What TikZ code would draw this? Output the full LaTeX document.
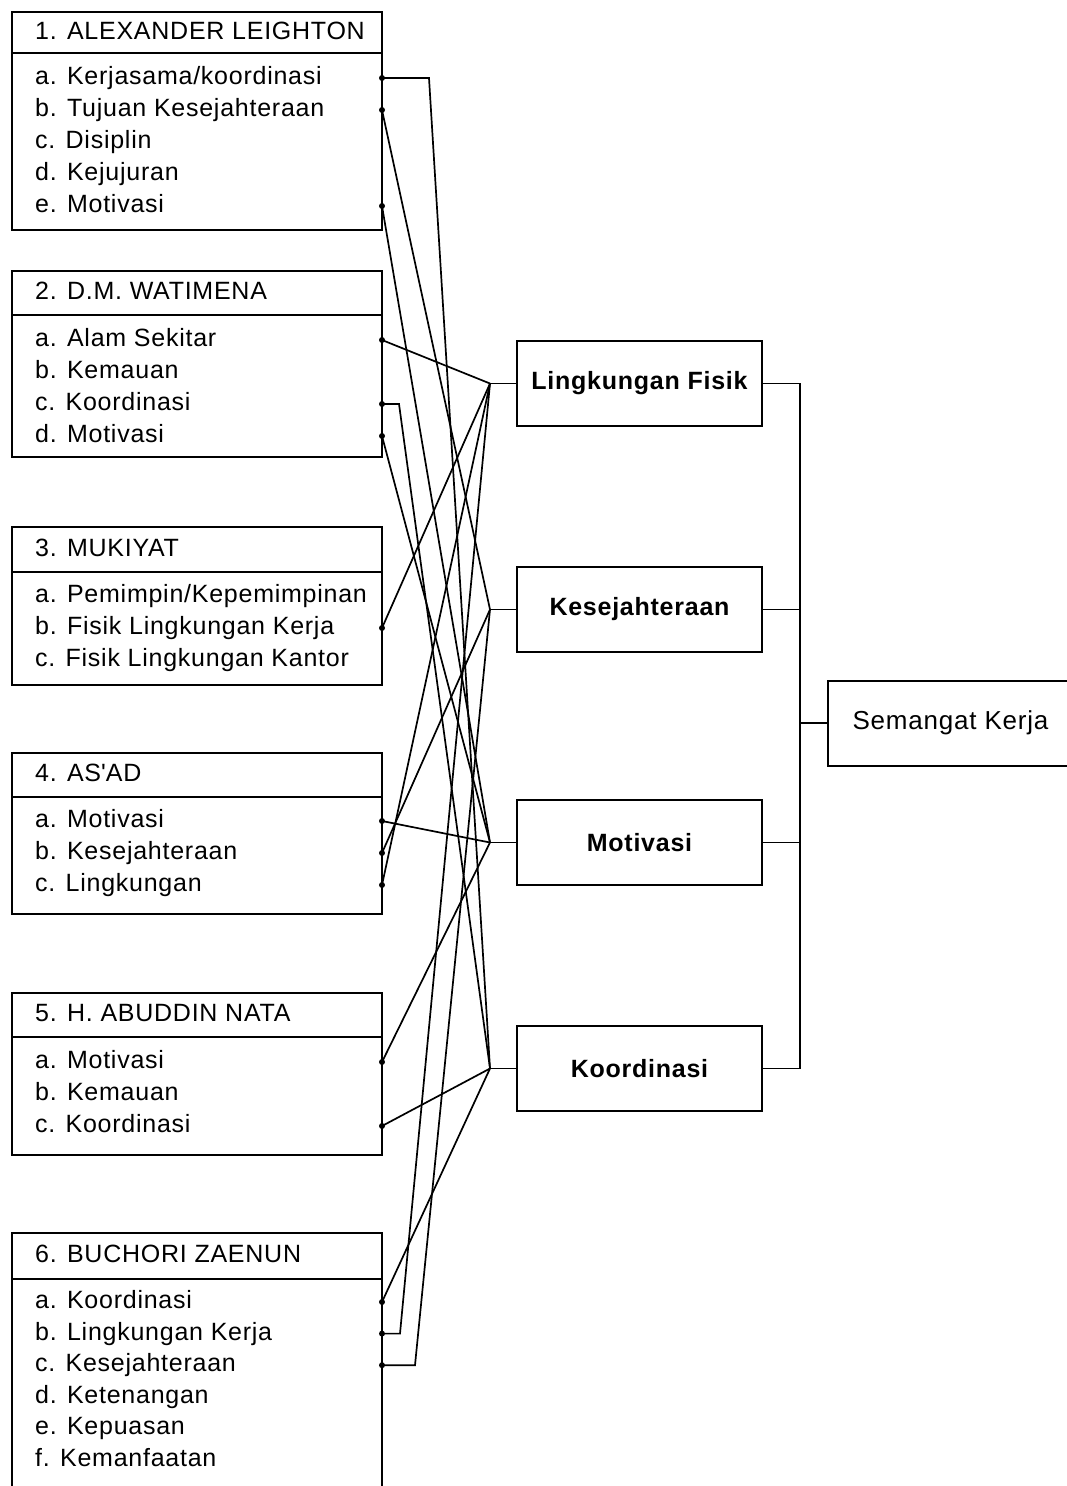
\documentclass[tikz,border=0pt]{standalone}
\usepackage{fontspec}
\setmainfont{Liberation Sans}[LetterSpace=3]
\usetikzlibrary{positioning}
\tikzset{x=1pt, y=-1pt, % pixel grid of the scan
namebox/.style={ % header of a source box
draw,
line width=2pt,
outer sep=0pt,
minimum width=370pt,
anchor=north west},
listbox/.style={ % list part of a source box
namebox,
anchor=north},
heading/.style={anchor=west, inner sep=0pt, text height=18pt, text depth=5pt,
font=\fontsize{25}{29}\selectfont},
entry/.style={heading},
dot/.style={circle, fill, inner sep=0pt, minimum size=6pt},
factor/.style={ % the four factors in the middle
draw,
line width=2pt,
outer sep=0pt,
minimum width=245pt,
minimum height=85pt,
font=\bfseries\fontsize{25}{29}\selectfont},
link/.style={line width=1.7pt}}

\begin{document}
\begin{tikzpicture}
\useasboundingbox (0,0) rectangle (1067,1486);
\clip (0,0) rectangle (1067,1486);

% 1. Alexander Leighton
\node[namebox, minimum height=41pt] (h1) at (12,12) {};
\node[listbox, minimum height=177pt, below=0pt of h1] (b1) {};
\node[heading] (t1) at (35,32.5) {1. ALEXANDER LEIGHTON};
\node[entry] (e1a) at (35,78) {a. Kerjasama/koordinasi};
\node[entry] (e1b) at (35,110) {b. Tujuan Kesejahteraan};
\node[entry] (e1c) at (35,142) {c. Disiplin};
\node[entry] (e1d) at (35,174) {d. Kejujuran};
\node[entry] (e1e) at (35,206) {e. Motivasi};

% 2. D.M. Watimena
\node[namebox, minimum height=44pt] (h2) at (12,271) {};
\node[listbox, minimum height=142pt, below=0pt of h2] (b2) {};
\node[heading] (t2) at (35,293) {2. D.M. WATIMENA};
\node[entry] (e2a) at (35,340) {a. Alam Sekitar};
\node[entry] (e2b) at (35,372) {b. Kemauan};
\node[entry] (e2c) at (35,404) {c. Koordinasi};
\node[entry] (e2d) at (35,436) {d. Motivasi};

% 3. Mukiyat
\node[namebox, minimum height=45pt] (h3) at (12,527) {};
\node[listbox, minimum height=113pt, below=0pt of h3] (b3) {};
\node[heading] (t3) at (35,549.5) {3. MUKIYAT};
\node[entry] (e3a) at (35,596) {a. Pemimpin/Kepemimpinan};
\node[entry] (e3b) at (35,628) {b. Fisik Lingkungan Kerja};
\node[entry] (e3c) at (35,660) {c. Fisik Lingkungan Kantor};

% 4. As'ad
\node[namebox, minimum height=44pt] (h4) at (12,753) {};
\node[listbox, minimum height=117pt, below=0pt of h4] (b4) {};
\node[heading] (t4) at (35,775) {4. AS\textquotesingle AD};
\node[entry] (e4a) at (35,821) {a. Motivasi};
\node[entry] (e4b) at (35,853) {b. Kesejahteraan};
\node[entry] (e4c) at (35,885) {c. Lingkungan};

% 5. H. Abuddin Nata
\node[namebox, minimum height=44pt] (h5) at (12,993) {};
\node[listbox, minimum height=118pt, below=0pt of h5] (b5) {};
\node[heading] (t5) at (35,1015) {5. H. ABUDDIN NATA};
\node[entry] (e5a) at (35,1062) {a. Motivasi};
\node[entry] (e5b) at (35,1094) {b. Kemauan};
\node[entry] (e5c) at (35,1126) {c. Koordinasi};

% 6. Buchori Zaenun (runs off the page)
\node[namebox, minimum height=46pt] (h6) at (12,1233) {};
\node[listbox, minimum height=230pt, below=0pt of h6] (b6) {};
\node[heading] (t6) at (35,1256) {6. BUCHORI ZAENUN};
\node[entry] (e6a) at (35,1302) {a. Koordinasi};
\node[entry] (e6b) at (35,1333.6) {b. Lingkungan Kerja};
\node[entry] (e6c) at (35,1365.2) {c. Kesejahteraan};
\node[entry] (e6d) at (35,1396.8) {d. Ketenangan};
\node[entry] (e6e) at (35,1428.4) {e. Kepuasan};
\node[entry] (e6f) at (35,1460) {f. Kemanfaatan};

% dots on the right edge
\node[dot] (d1a) at (e1a -| b1.east) {};
\node[dot] (d1b) at (e1b -| b1.east) {};
\node[dot] (d1e) at (e1e -| b1.east) {};
\node[dot] (d2a) at (e2a -| b2.east) {};
\node[dot] (d2c) at (e2c -| b2.east) {};
\node[dot] (d2d) at (e2d -| b2.east) {};
\node[dot] (d3b) at (e3b -| b3.east) {};
\node[dot] (d4a) at (e4a -| b4.east) {};
\node[dot] (d4b) at (e4b -| b4.east) {};
\node[dot] (d4c) at (e4c -| b4.east) {};
\node[dot] (d5a) at (e5a -| b5.east) {};
\node[dot] (d5c) at (e5c -| b5.east) {};
\node[dot] (d6a) at (e6a -| b6.east) {};
\node[dot] (d6b) at (e6b -| b6.east) {};
\node[dot] (d6c) at (e6c -| b6.east) {};

% factors
\node[factor] (lf) at (639.5,383.5) {Lingkungan Fisik};
\node[factor] (ks) at (639.5,609.5) {Kesejahteraan};
\node[factor] (mv) at (639.5,842.5) {Motivasi};
\node[factor] (ko) at (639.5,1068.5) {Koordinasi};
\node[factor, font=\fontsize{26}{30}\selectfont] (sk) at (950.5,723) {Semangat Kerja};

\coordinate (hubLF) at ([xshift=-27pt]lf.west);
\coordinate (hubKS) at ([xshift=-27pt]ks.west);
\coordinate (hubMV) at ([xshift=-27pt]mv.west);
\coordinate (hubKO) at ([xshift=-27pt]ko.west);
\draw[link] (hubLF) -- (lf);
\draw[link] (hubKS) -- (ks);
\draw[link] (hubMV) -- (mv);
\draw[link] (hubKO) -- (ko);

% sources to factors
\draw[link] (d1a.center) -- ++(47,0) -- (hubKO);
\draw[link] (d1b.center) -- (hubKS);
\draw[link] (d1e.center) -- (hubMV);
\draw[link] (d2a.center) -- (hubLF);
\draw[link] (d2c.center) -- ++(17,0) -- (hubKO);
\draw[link] (d2d.center) -- (hubMV);
\draw[link] (d3b.center) -- (hubLF);
\draw[link] (d4a.center) -- (hubMV);
\draw[link] (d4b.center) -- (hubKS);
\draw[link] (d4c.center) -- (hubLF);
\draw[link] (d5a.center) -- (hubMV);
\draw[link] (d5c.center) -- (hubKO);
\draw[link] (d6a.center) -- (hubKO);
\draw[link] (d6b.center) -- ++(18,0) -- (hubLF);
\draw[link] (d6c.center) -- ++(33,0) -- (hubKS);

% factors to Semangat Kerja
\coordinate (busTop) at ([xshift=38pt]lf.east);
\coordinate (busBot) at ([xshift=38pt]ko.east);
\draw[link] (lf) -- (busTop) -- (busBot) -- (ko);
\draw[link] (ks) -- (ks -| busTop);
\draw[link] (mv) -- (mv -| busTop);
\draw[link] (sk) -- (sk -| busTop);
\end{tikzpicture}
\end{document}
